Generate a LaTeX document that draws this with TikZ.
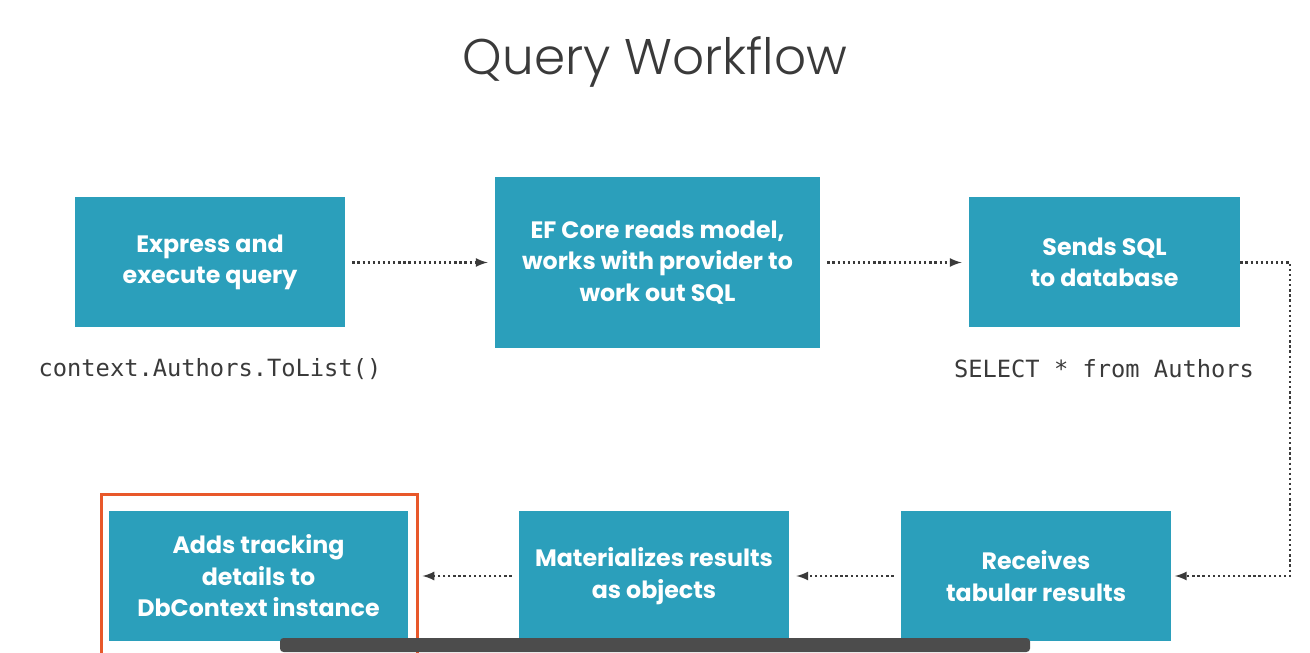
\documentclass[tikz,border=0pt]{standalone}
\usepackage{fontspec}
\setmainfont{Poppins}
\newfontfamily\titlefont{Poppins Light}
\setmonofont{DejaVu Sans Mono}
\usetikzlibrary{shapes,arrows,positioning}
\usepackage{xcolor}
\definecolor{stepblue}{HTML}{2B9FBB}
\definecolor{hiorange}{HTML}{E8582A}
\definecolor{txtgray}{HTML}{3A3A3A}

\begin{document}
\begin{tikzpicture}
      \tikzstyle{task} = [rectangle, fill=stepblue, text=white, align=center, font=\bfseries\fontsize{13.5}{17.9}\selectfont, minimum width=5.4cm, minimum height=2.6cm]
      \tikzstyle{code} = [text=txtgray, font=\ttfamily\fontsize{13.5}{16}\selectfont]
      \tikzstyle{flow} = [->, >=latex, line width=1.3pt, dash pattern=on 1.3pt off 1.6pt, draw=txtgray, shorten >=4pt, shorten <=4pt]

      \useasboundingbox (0,0) rectangle (26.2,13.04);

      \node[text=txtgray, font=\titlefont\fontsize{28.5}{31}\selectfont] (title) at (13.1,11.8) {Query Workflow};

      \node[task] (express) at (4.2,7.79) {Express and\\execute query};
      \node[task, minimum width=6.5cm, minimum height=3.42cm] (efcore) at (13.15,7.79) {EF Core reads model,\\works with provider to\\work out SQL};
      \node[task, minimum width=5.42cm] (sends) at (22.09,7.79) {Sends SQL\\to database};

      \node[code] (linq) at (4.2,5.66) {context.Authors.ToList()};
      \node[code] (sql) at (22.08,5.66) {SELECT * from Authors};

      \node[task] (receives) at (20.72,1.52) {Receives\\tabular results};
      \node[task] (materialize) at (13.08,1.52) {Materializes results\\as objects};
      \node[task, minimum width=5.98cm] (tracking) at (5.17,1.52) {Adds tracking\\details to\\DbContext instance};

      \node[draw=hiorange, line width=1.7pt, minimum width=6.32cm, minimum height=3.6cm, anchor=north west] (focus) at (2.0,3.18) {};

      \coordinate (turn) at (25.8,7.79);

      \draw[flow] (express) -- (efcore);
      \draw[flow] (efcore) -- (sends);
      \draw[flow, shorten <=0pt, shorten >=2pt] (sends.east) -- (turn) |- (receives.east);
      \draw[flow] (receives) -- (materialize);
      \draw[flow, shorten >=2pt] (materialize) -- (focus.east |- materialize);

      \fill[gray!60!black, rounded corners=2pt] (5.6,0) rectangle (20.6,0.28);
    \end{tikzpicture}
\end{document}
